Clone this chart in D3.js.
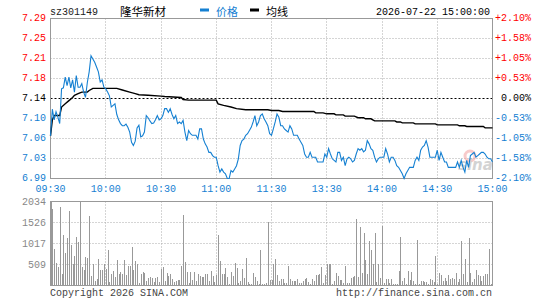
<!DOCTYPE html>
<html><head><meta charset="utf-8">
<script src="https://cdn.jsdelivr.net/npm/d3@7"></script>
<style>
html,body{margin:0;padding:0;background:#fff;}
svg{display:block;}
text{font-family:"Liberation Mono","DejaVu Sans Mono",monospace;font-size:10px;}
.cjk{font-family:"Noto Sans CJK SC",sans-serif;}
</style></head>
<body>
<script>
// ---- data ----
const stockCode = "sz301149";
const stockName = "隆华新材";
const dateLabel = "2026-07-22 15:00:00";
const prevClose = 7.14;
const pctRange = 0.021;
const priceTickLabels = ["7.29","7.25","7.21","7.18","7.14","7.10","7.06","7.03","6.99"];
const pctTickLabels = ["+2.10%","+1.58%","+1.05%","+0.53%","0.00%","-0.53%","-1.05%","-1.58%","-2.10%"];
const timeTickMinutes = [0,30,60,90,120,150,180,210,240];
const timeTickLabels = ["09:30","10:00","10:30","11:00","11:30","13:30","14:00","14:30","15:00"];
const volMax = 2034;
const volTickLabels = ["2034","1526","1017","509"];
// per-minute price, minute 0 (09:30) .. 240 (15:00)
const prices = [
7.07,7.12,7.10,7.115,7.105,7.093,7.158,7.16,7.18,7.164,
7.18,7.16,7.175,7.152,7.183,7.161,7.161,7.168,7.152,7.142,
7.17,7.19,7.22,7.214,7.208,7.199,7.19,7.171,7.175,7.161,
7.158,7.152,7.145,7.124,7.127,7.13,7.11,7.10,7.093,7.089,
7.089,7.092,7.086,7.077,7.058,7.052,7.06,7.085,7.09,7.068,
7.07,7.077,7.108,7.104,7.098,7.093,7.094,7.10,7.108,7.10,
7.102,7.108,7.121,7.121,7.114,7.121,7.11,7.102,7.108,7.093,
7.096,7.093,7.099,7.077,7.061,7.08,7.074,7.071,7.071,7.071,
7.064,7.083,7.083,7.064,7.055,7.049,7.039,7.039,7.033,7.03,
7.03,7.014,7.002,7.008,7.002,6.999,6.99,6.99,7.005,7.002,
7.008,7.014,7.027,7.052,7.061,7.064,7.071,7.074,7.08,7.086,
7.096,7.108,7.089,7.096,7.108,7.111,7.102,7.096,7.089,7.074,
7.071,7.083,7.096,7.111,7.105,7.089,7.089,7.083,7.08,7.077,
7.089,7.083,7.071,7.071,7.071,7.064,7.058,7.052,7.036,7.03,
7.03,7.039,7.03,7.03,7.03,7.021,7.021,7.021,7.021,7.036,
7.03,7.046,7.036,7.027,7.024,7.021,7.039,7.039,7.024,7.03,
7.014,7.027,7.03,7.027,7.021,7.024,7.036,7.046,7.043,7.046,
7.04,7.043,7.061,7.055,7.046,7.043,7.03,7.021,7.027,7.03,
7.03,7.03,7.046,7.036,7.021,7.03,7.03,7.024,7.014,7.011,
7.005,6.999,6.99,6.999,7.005,7.011,7.011,7.011,7.024,7.03,
7.024,7.043,7.049,7.052,7.061,7.049,7.03,7.03,7.03,7.03,
7.043,7.024,7.039,7.03,7.021,7.021,7.011,7.011,7.011,7.011,
7.011,7.021,7.011,7.024,7.011,7.002,7.024,7.011,7.033,7.036,
7.039,7.03,7.033,7.036,7.039,7.039,7.036,7.03,7.027,7.027,
7.021];
// average line (minute, price) read at its turning points
const avgMinutes = [0,1,2,5,6,8,10,12,13,15,17,20,21,23,36,39,43,46,48,53,60,62,71,72,75,90,91,94,98,101,106,118,120,124,126,143,144,148,150,154,155,159,160,165,167,170,171,174,175,176,187,188,190,191,197,198,209,210,221,222,225,226,235,236,240];
const avgValues  = [7.07,7.10,7.108,7.108,7.124,7.13,7.136,7.142,7.146,7.149,7.152,7.152,7.155,7.159,7.159,7.156,7.152,7.149,7.147,7.146,7.1445,7.1437,7.142,7.138,7.137,7.137,7.13,7.127,7.124,7.121,7.119,7.119,7.1175,7.1175,7.1156,7.1156,7.113,7.113,7.1113,7.1113,7.1094,7.1094,7.107,7.107,7.104,7.104,7.102,7.102,7.10,7.098,7.098,7.096,7.096,7.0944,7.0944,7.0925,7.0925,7.0906,7.0906,7.0888,7.0888,7.0875,7.0875,7.085,7.085];
// per-minute volume, minute 0 .. 240
const volumes = [
2034,1856,888,549,452,1905,282,1227,791,1154,
1808,985,525,718,1178,1065,2034,452,379,694,
670,1687,234,525,121,161,646,379,379,525,
404,863,89,282,355,210,621,282,331,282,
621,258,476,476,936,379,597,525,65,282,
331,307,121,186,210,186,89,186,210,89,
404,452,113,307,234,282,161,89,113,137,
137,476,1711,573,331,65,331,137,331,113,
282,234,210,210,282,282,113,355,234,89,
258,1227,597,282,282,428,210,40,331,234,
549,428,65,113,404,186,670,89,40,40,
307,210,113,40,863,40,40,50,1533,137,
145,509,646,258,105,161,161,65,65,476,
161,113,113,113,161,65,65,113,161,186,
89,40,161,113,258,266,282,452,65,258,
525,525,525,40,113,307,234,137,137,65,
476,65,65,186,210,234,1614,210,1420,299,
1275,621,282,1081,863,525,1275,89,525,186,
1445,65,161,161,65,161,40,40,40,355,
1178,113,186,40,355,137,331,113,40,1106,
40,113,113,89,89,40,161,137,89,718,
40,307,266,113,186,113,258,161,186,161,
307,89,161,1073,282,646,89,1154,307,89,
161,379,258,234,113,234,282,282,888,40,
0];

// ---- layout ----
const W = 545, H = 300;
const L = 50.5, R = 492.5, PT = 18.5, PB = 178.5, VT = 201.5, VB = 285.5;
const blue = "#1580d2", red = "#ff0000", grid = "#aaaaaa", frame = "#999999";

const svg = d3.select("body").append("svg").attr("width", W).attr("height", H);

const x = d3.scaleLinear().domain([0, 240]).range([L, R]);
const pDom = [prevClose * (1 - pctRange), prevClose * (1 + pctRange)];
const y = d3.scaleLinear().domain(pDom).range([PB, PT]);
const yv = d3.scaleLinear().domain([0, volMax]).range([VB, VT]);

const priceTicks = d3.range(9).map(i => pDom[1] - i * (pDom[1] - pDom[0]) / 8);
const volTicks = [volMax, volMax * 3 / 4, volMax / 2, volMax / 4];

const snap = v => Math.round(v - 0.5) + 0.5;

// grids price panel
const gP = svg.append("g");
priceTicks.forEach((t, i) => {
  if (i === 0 || i === 8) return;
  const yy = snap(y(t));
  gP.append("line").attr("x1", L).attr("x2", R).attr("y1", yy).attr("y2", yy)
    .attr("stroke", i === 4 ? "#000" : grid)
    .attr("stroke-dasharray", i === 4 ? "2,2" : "1,2");
});
timeTickMinutes.forEach((m, i) => {
  if (i === 0 || i === timeTickMinutes.length - 1) return;
  const xx = snap(x(m));
  gP.append("line").attr("x1", xx).attr("x2", xx).attr("y1", PT).attr("y2", PB)
    .attr("stroke", grid).attr("stroke-dasharray", "1,2");
  gP.append("line").attr("x1", xx).attr("x2", xx).attr("y1", VT).attr("y2", VB)
    .attr("stroke", grid).attr("stroke-dasharray", "1,2");
});
volTicks.forEach((t, i) => {
  if (i === 0) return;
  const yy = snap(yv(t));
  gP.append("line").attr("x1", L).attr("x2", R).attr("y1", yy).attr("y2", yy)
    .attr("stroke", grid).attr("stroke-dasharray", "1,2");
});

// watermark
const wm = svg.append("g").attr("opacity", 0.55);
wm.append("circle").attr("cx", 470).attr("cy", 156).attr("r", 5).attr("fill", "none").attr("stroke", "#f3a0a0").attr("stroke-width", 3);
wm.append("text").attr("x", 458).attr("y", 170).attr("fill", "#b0b0b0")
  .style("font-family", "DejaVu Sans").style("font-size", "15px").style("font-weight", "bold").style("font-style", "italic").text("sina");

// volume bars
svg.append("g").selectAll("rect").data(volumes).join("rect")
  .attr("x", (d, i) => Math.round(x(i)))
  .attr("width", 1)
  .attr("y", d => yv(d))
  .attr("height", d => VB - yv(d))
  .attr("fill", "#999")
  .attr("shape-rendering", "crispEdges");

// frames
svg.append("rect").attr("x", L).attr("y", PT).attr("width", R - L).attr("height", PB - PT)
  .attr("fill", "none").attr("stroke", frame);
svg.append("rect").attr("x", L).attr("y", VT).attr("width", R - L).attr("height", VB - VT)
  .attr("fill", "none").attr("stroke", frame);

// average line
const avgPts = avgMinutes.map((m, i) => [m, avgValues[i]]);
svg.append("path").datum(avgPts)
  .attr("d", d3.line().x(d => x(d[0])).y(d => y(d[1])))
  .attr("fill", "none").attr("stroke", "#000").attr("stroke-width", 1.4);

// price line
svg.append("path").datum(prices)
  .attr("d", d3.line().x((d, i) => x(i)).y(d => y(d)))
  .attr("fill", "none").attr("stroke", blue).attr("stroke-width", 1.1);

// left price labels, right pct labels
priceTicks.forEach((t, i) => {
  const col = i < 4 ? red : (i === 4 ? "#000" : blue);
  svg.append("text").attr("x", 46).attr("y", y(t) + 2.5).attr("text-anchor", "end")
    .attr("fill", col).text(priceTickLabels[i]);
  svg.append("text").attr("x", 531).attr("y", y(t) + 2.5).attr("text-anchor", "end")
    .attr("fill", col).text(pctTickLabels[i]);
});
// time labels
timeTickMinutes.forEach((m, i) => {
  svg.append("text").attr("x", x(m)).attr("y", 192).attr("text-anchor", "middle")
    .attr("fill", blue).text(timeTickLabels[i]);
});
// volume labels
volTicks.forEach((t, i) => {
  svg.append("text").attr("x", 46).attr("y", yv(t) + 3.5).attr("text-anchor", "end")
    .attr("fill", "#888").text(volTickLabels[i]);
});

// header
svg.append("text").attr("x", 50).attr("y", 15).attr("fill", "#222").text(stockCode);
svg.append("text").attr("class", "cjk").attr("x", 120).attr("y", 15.5).attr("fill", "#000")
  .style("font-size", "11.5px").text(stockName);
svg.append("rect").attr("x", 200).attr("y", 8.5).attr("width", 9).attr("height", 3).attr("fill", blue);
svg.append("text").attr("class", "cjk").attr("x", 216).attr("y", 15.5).attr("fill", blue)
  .style("font-size", "11px").text("价格");
svg.append("rect").attr("x", 250).attr("y", 8.5).attr("width", 9).attr("height", 3).attr("fill", "#000");
svg.append("text").attr("class", "cjk").attr("x", 266).attr("y", 15.5).attr("fill", "#000")
  .style("font-size", "11px").text("均线");
svg.append("text").attr("x", 490).attr("y", 15).attr("text-anchor", "end").attr("fill", "#000").text(dateLabel);

// footer
svg.append("text").attr("x", 50).attr("y", 296).attr("fill", "#444").text("Copyright 2026 SINA.COM");
svg.append("text").attr("x", 492).attr("y", 296).attr("text-anchor", "end").attr("fill", "#444").text("http://finance.sina.com.cn");
</script>
</body></html>
